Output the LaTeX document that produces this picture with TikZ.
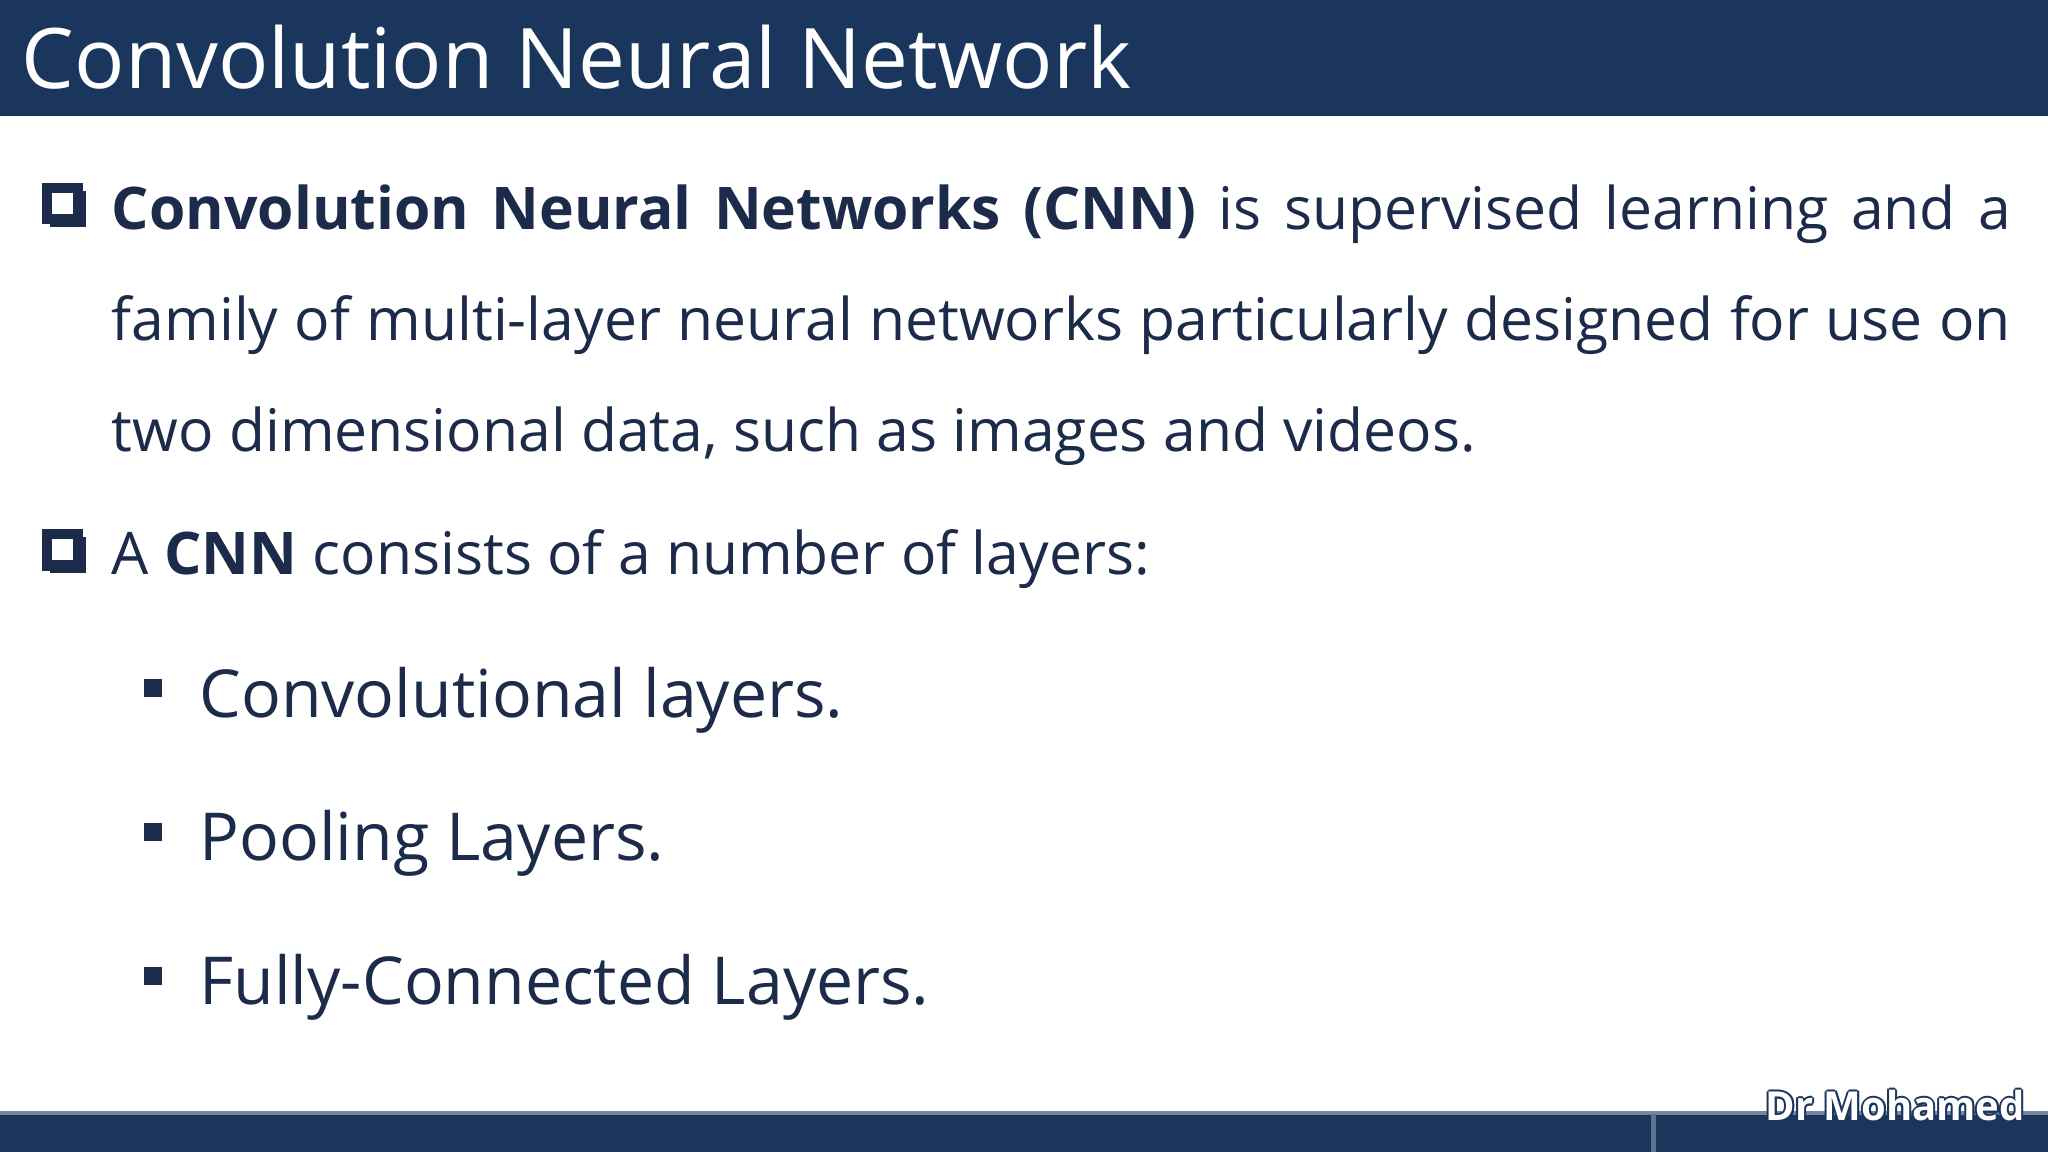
\documentclass[tikz,border=0pt]{standalone}
\usepackage{fontspec}
\setmainfont{Open Sans}
\definecolor{navy}{HTML}{1B365D}
\definecolor{txt}{HTML}{1D2B4A}
\begin{document}
\begin{tikzpicture}[x=0.01cm,y=-0.01cm,
  body/.style={anchor=base west,inner sep=0,text=txt,font=\fontsize{12.8}{20}\selectfont},
  sub/.style={anchor=base west,inner sep=0,text=txt,font=\fontsize{14.4}{22}\selectfont},
  sq/.style={fill=txt}]
\useasboundingbox (0,0) rectangle (1568,882);
\fill[white] (0,0) rectangle (1568,882);
\fill[navy] (0,0) rectangle (1568,89);
\node[anchor=base west,inner sep=0,text=white,font=\fontsize{18.2}{24}\selectfont] (title) at (16,68) {Convolution Neural Network};
% bullet 1
\fill[txt] (38,146) rectangle (66,174);
\fill[white] (36,144) rectangle (60,168);
\draw[txt,line width=2.2] (36,144) rectangle (60,168);
\node[body] (l1) at (85,176) {\makebox[14.53cm][s]{\textbf{Convolution Neural Networks (CNN)} is supervised learning and a}};
\node[body] (l2) at (85,261) {\makebox[14.53cm][s]{family of multi-layer neural networks particularly designed for use on}};
\node[body] (l3) at (85,346) {two dimensional data, such as images and videos.};
% bullet 2
\fill[txt] (38,411) rectangle (66,439);
\fill[white] (36,409) rectangle (60,433);
\draw[txt,line width=2.2] (36,409) rectangle (60,433);
\node[body] (l4) at (85,440) {A \textbf{CNN} consists of a number of layers:};
\fill[sq] (110,520) rectangle (124,534);
\node[sub] (s1) at (152,549) {Convolutional layers.};
\fill[sq] (110,630) rectangle (124,644);
\node[sub] (s2) at (152,659) {Pooling Layers.};
\fill[sq] (110,740) rectangle (124,754);
\node[sub] (s3) at (152,769) {Fully-Connected Layers.};
% footer
\fill[navy] (0,852) rectangle (1568,882);
\draw[navy!60!white,line width=0.8] (0,852) -- (1568,852);
\draw[navy!70!white,line width=1] (1266,853) -- (1266,882);
\foreach \dx/\dy in {-1.5/0,1.5/0,0/-1.5,0/1.5,-1.1/-1.1,1.1/1.1,-1.1/1.1,1.1/-1.1}
  \node[anchor=base east,inner sep=0,text=navy,font=\fontsize{8.7}{12}\selectfont\bfseries] at (1551+\dx,858+\dy) {Dr Mohamed};
\node[anchor=base east,inner sep=0,text=white,font=\fontsize{8.7}{12}\selectfont\bfseries] (sig) at (1551,858) {Dr Mohamed};
\end{tikzpicture}
\end{document}
